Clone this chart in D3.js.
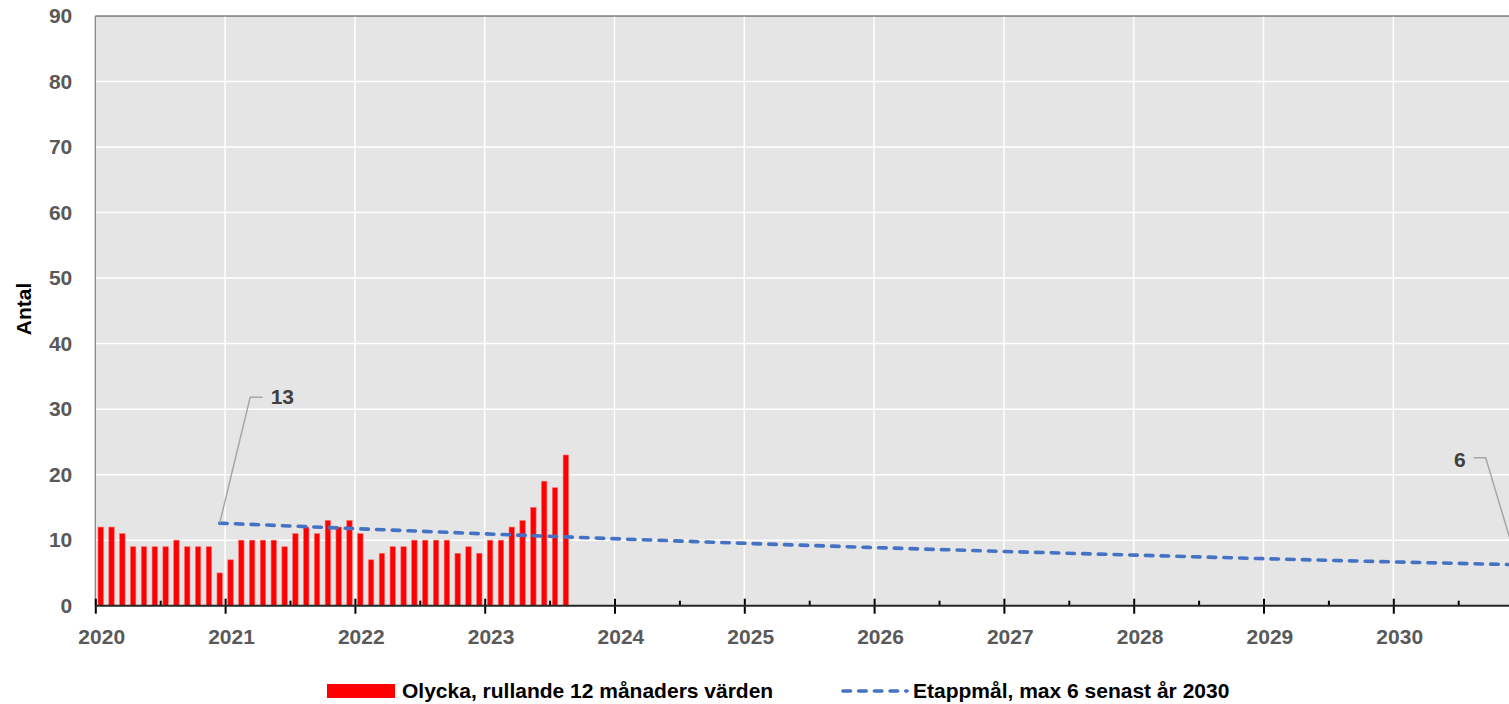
<!DOCTYPE html>
<html><head><meta charset="utf-8">
<script src="https://cdn.jsdelivr.net/npm/d3@7"></script>
<style>
html,body{margin:0;padding:0;background:#fff;overflow:hidden}
svg{display:block}
text{font-family:"Liberation Sans",Arial,sans-serif;font-weight:bold}
</style></head>
<body>
<svg id="c" width="1509" height="704"></svg>
<script>
// ---- data ----
const barValues = [
  12,12,11,9,9,9,9,10,9,9,9,5,
  7,10,10,10,10,9,11,12,11,13,12,13,
  11,7,8,9,9,10,10,10,10,8,9,8,
  10,10,12,13,15,19,18,23
];
const targetMonths = ["2020-12","2021-12","2022-12","2023-12","2024-12","2025-12","2026-12","2027-12","2028-12","2029-12","2030-12"];
const targetValues = [12.6,11.8,11.0,10.25,9.55,8.9,8.3,7.75,7.2,6.7,6.25];
const targetLabels = ["13","6"];
const years = [2020,2021,2022,2023,2024,2025,2026,2027,2028,2029,2030];
const yTicks = [0,10,20,30,40,50,60,70,80,90];
const seriesNames = ["Olycka, rullande 12 månaders värden","Etappmål, max 6 senast år 2030"];
const yTitle = "Antal";

// ---- layout ----
const X0 = 95.3, X1 = 1523.1, Y0 = 605.7, Y1 = 16;
const fmt = d3.timeFormat("%Y-%m");
const months = d3.timeMonths(new Date(2020,0,1), new Date(2031,0,1)).map(fmt);
const barMonths = months.slice(0, barValues.length);

const x = d3.scaleBand().domain(months).range([X0, X1]).paddingInner(0.5).paddingOuter(0.25);
const xc = m => x(m) + x.bandwidth()/2;
const xYear = d3.scaleLinear().domain([2020, 2031]).range([X0, X1]);
const y = d3.scaleLinear().domain([0, 90]).range([Y0, Y1]);

const svg = d3.select("#c");

// plot background
svg.append("rect").attr("x", X0).attr("y", Y1).attr("width", X1 - X0).attr("height", Y0 - Y1).attr("fill", "#e5e5e5");

// horizontal grid
svg.append("g").selectAll("line").data(yTicks.filter(d => d > 0 && d < 90)).join("line")
  .attr("x1", X0).attr("x2", X1).attr("y1", d => y(d)).attr("y2", d => y(d))
  .attr("stroke", "#ffffff").attr("stroke-width", 1.5);
// vertical grid
svg.append("g").selectAll("line").data(years.slice(1)).join("line")
  .attr("x1", d => xYear(d)).attr("x2", d => xYear(d)).attr("y1", Y1).attr("y2", Y0)
  .attr("stroke", "#ffffff").attr("stroke-width", 1.5);

// plot border top & left
svg.append("line").attr("x1", X0).attr("x2", X1).attr("y1", Y1).attr("y2", Y1).attr("stroke", "#404040").attr("stroke-width", 1);
svg.append("line").attr("x1", X0).attr("x2", X0).attr("y1", Y1).attr("y2", Y0).attr("stroke", "#7f7f7f").attr("stroke-width", 1.2);

// bars
svg.append("g").selectAll("rect").data(barValues).join("rect")
  .attr("x", (d, i) => x(barMonths[i])).attr("width", x.bandwidth())
  .attr("y", d => y(d)).attr("height", d => Y0 - y(d))
  .attr("fill", "#ff0000").attr("stroke", "#ff6a6a").attr("stroke-width", 0.6);

// x axis: major ticks
const gx = svg.append("g").attr("transform", `translate(0,${Y0})`)
  .call(d3.axisBottom(xYear).tickValues(years).tickSize(8).tickFormat(""));
gx.select(".domain").remove();
gx.selectAll(".tick line").attr("y1", -7).attr("stroke", "#000").attr("stroke-width", 2);
// minor ticks
const gm = svg.append("g").attr("transform", `translate(0,${Y0})`)
  .call(d3.axisTop(xYear).tickValues(years.map(d => d + 0.5)).tickSize(5).tickFormat(""));
gm.select(".domain").remove();
gm.selectAll(".tick line").attr("stroke", "#000").attr("stroke-width", 2);
// axis line
svg.append("line").attr("x1", X0).attr("x2", X1).attr("y1", Y0).attr("y2", Y0).attr("stroke", "#262626").attr("stroke-width", 2);

// x labels
svg.append("g").selectAll("text").data(years).join("text")
  .attr("x", d => xc(d + "-01") + 1).attr("y", 644)
  .attr("text-anchor", "middle").attr("font-size", 21).attr("fill", "#595959")
  .text(d => d);

// y axis labels
const gy = svg.append("g").attr("transform", `translate(${X0},0)`)
  .call(d3.axisLeft(y).tickValues(yTicks).tickSize(0).tickPadding(23));
gy.select(".domain").remove();
gy.selectAll("text").attr("font-size", 21).attr("fill", "#595959")
  .attr("font-family", '"Liberation Sans",Arial,sans-serif').attr("font-weight", "bold");

// y title
svg.append("text").attr("transform", `translate(31,309) rotate(-90)`)
  .attr("text-anchor", "middle").attr("font-size", 21).attr("fill", "#000").text(yTitle);

// target line
const line = d3.line().x(d => xc(d[0])).y(d => y(d[1]));
const tdata = targetMonths.map((m, i) => [m, targetValues[i]]);
svg.append("path").datum(tdata).attr("d", line)
  .attr("fill", "none").attr("stroke", "#4472c4").attr("stroke-width", 3.6)
  .attr("stroke-dasharray", "7.5,8.2").attr("stroke-linecap", "round");

// data labels with leaders
const first = tdata[0], last = tdata[tdata.length - 1];
const fx = xc(first[0]), fy = y(first[1]);
svg.append("polyline").attr("points", `${fx},${fy} ${fx + 30.5},${fy - 126} ${fx + 43},${fy - 126}`)
  .attr("fill", "none").attr("stroke", "#a6a6a6").attr("stroke-width", 1.5);
svg.append("text").attr("x", fx + 51).attr("y", fy - 126).attr("dy", "0.35em")
  .attr("font-size", 21).attr("fill", "#404040").text(targetLabels[0]);
const lx = xc(last[0]), ly = y(last[1]);
svg.append("polyline").attr("points", `${lx},${ly} ${lx - 32},${ly - 107} ${lx - 44},${ly - 107}`)
  .attr("fill", "none").attr("stroke", "#a6a6a6").attr("stroke-width", 1.5);
svg.append("text").attr("x", lx - 52).attr("y", ly - 105).attr("dy", "0.35em").attr("text-anchor", "end")
  .attr("font-size", 21).attr("fill", "#404040").text(targetLabels[1]);

// legend
const lg = svg.append("g");
lg.append("rect").attr("x", 327).attr("y", 684).attr("width", 68).attr("height", 14).attr("fill", "#ff0000");
lg.append("text").attr("x", 402).attr("y", 691).attr("dy", "0.35em").attr("font-size", 21).attr("fill", "#000").text(seriesNames[0]);
lg.append("line").attr("x1", 843).attr("x2", 907).attr("y1", 691).attr("y2", 691)
  .attr("stroke", "#4472c4").attr("stroke-width", 3.6).attr("stroke-dasharray", "7.5,8.2").attr("stroke-linecap", "round");
lg.append("text").attr("x", 913).attr("y", 691).attr("dy", "0.35em").attr("font-size", 21).attr("fill", "#000").text(seriesNames[1]);
</script>
</body></html>
